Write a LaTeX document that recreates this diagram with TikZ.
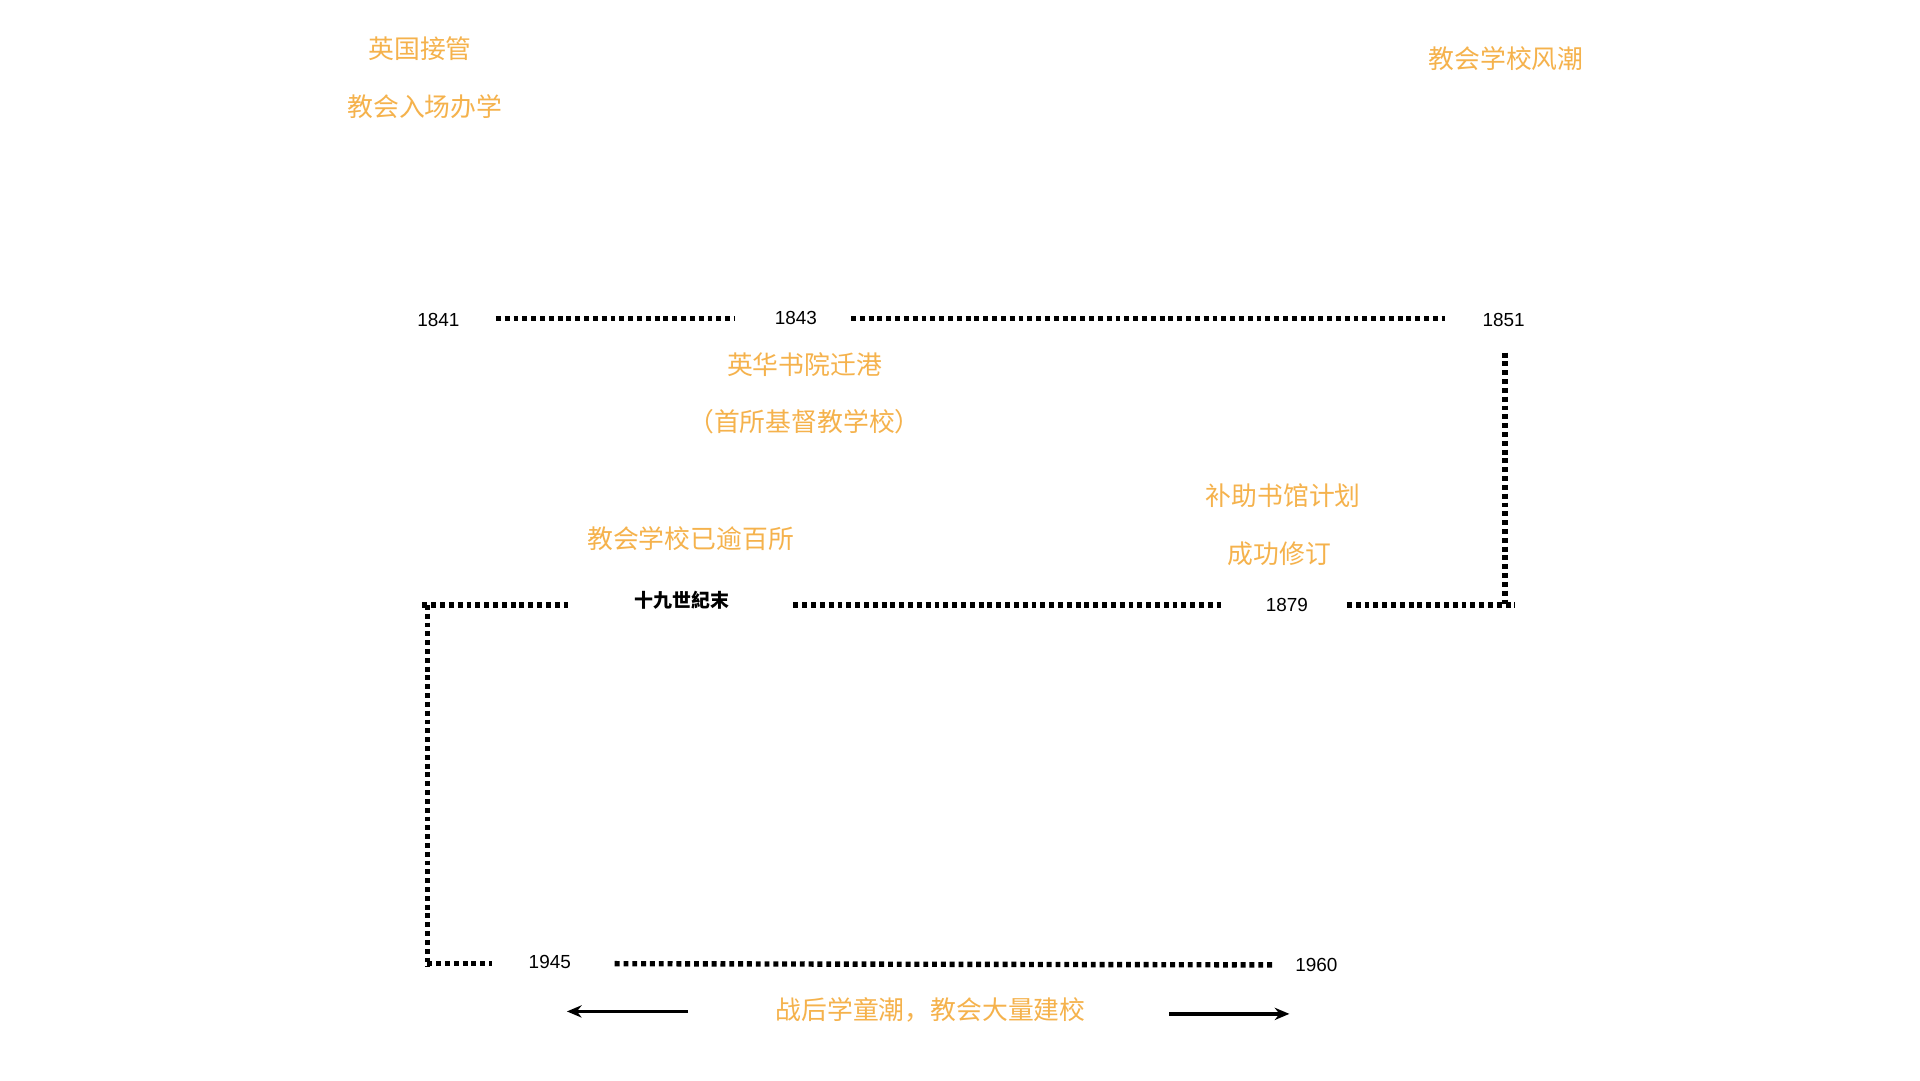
\documentclass[tikz,border=0pt]{standalone}
\usepackage{fontspec}
\setmainfont{Liberation Sans}
\newfontfamily\cjk{Noto Sans CJK SC}
\usetikzlibrary{arrows.meta}
\definecolor{org}{HTML}{F5B24C}
\begin{document}
\begin{tikzpicture}[x=0.5mm,y=-0.5mm,
  lab/.style={text=org,font=\cjk\fontsize{30}{30}\selectfont,inner sep=0pt},
  yr/.style={text=black,font=\fontsize{22}{22}\selectfont,inner sep=0pt},
  dot/.style={line width=2.2mm,dash pattern=on 2mm off 1.6mm},
  arr/.style={line width=1.4mm,-{Stealth[length=6mm,width=5mm]}}]
\useasboundingbox (0,0) rectangle (1568,882);
\fill[white] (0,0) rectangle (1568,882);
% labels
\node[lab] (l1) at (343,40) {英国接管};
\node[lab] (l2) at (347,87) {教会入场办学};
\node[lab] (l3) at (1230,48) {教会学校风潮};
\node[lab] (l4) at (657,298) {英华书院迁港};
\node[lab] (l5) at (657,344) {（首所基督教学校）};
\node[lab] (l6) at (1048,405) {补助书馆计划};
\node[lab] (l7) at (1045,452) {成功修订};
\node[lab] (l8) at (564,440) {教会学校已逾百所};
\node[lab] (l9) at (760,825) {战后学童潮，教会大量建校};
% years
\node[yr] (y1841) at (358,261) {1841};
\node[yr] (y1843) at (650,260) {1843};
\node[yr] (y1851) at (1228,261) {1851};
\node[yr,font=\cjk\fontsize{22}{22}\selectfont\bfseries] (y19) at (557,490) {十九世紀末};
\node[yr] (y1879) at (1051,494) {1879};
\node[yr] (y1945) at (449,786) {1945};
\node[yr] (y1960) at (1075,788) {1960};
% coordinates
\coordinate (a1) at (405,260); \coordinate (a2) at (600,260);
\coordinate (b1) at (695,260); \coordinate (b2) at (1180,260);
\coordinate (c1) at (1229,288); \coordinate (c2) at (1229,494);
\coordinate (d1) at (1100,494); \coordinate (d2) at (1237,494);
\coordinate (e1) at (648,494); \coordinate (e2) at (997,494);
\coordinate (f1) at (345,494); \coordinate (f2) at (465,494);
\coordinate (g1) at (349,494); \coordinate (g2) at (349,790);
\coordinate (h1) at (349,787); \coordinate (h2) at (402,787);
\coordinate (i1) at (502,787); \coordinate (i2) at (1040,788);
\coordinate (j1) at (562,826); \coordinate (j2) at (463,826);
\coordinate (k1) at (955,828); \coordinate (k2) at (1053,828);
\foreach \p/\q in {a1/a2,b1/b2,c1/c2,d1/d2,e1/e2,f1/f2,g1/g2,h1/h2,i1/i2}
  \draw[dot] (\p) -- (\q);
\draw[arr] (j1) -- (j2);
\draw[arr] (k1) -- (k2);
\end{tikzpicture}
\end{document}
